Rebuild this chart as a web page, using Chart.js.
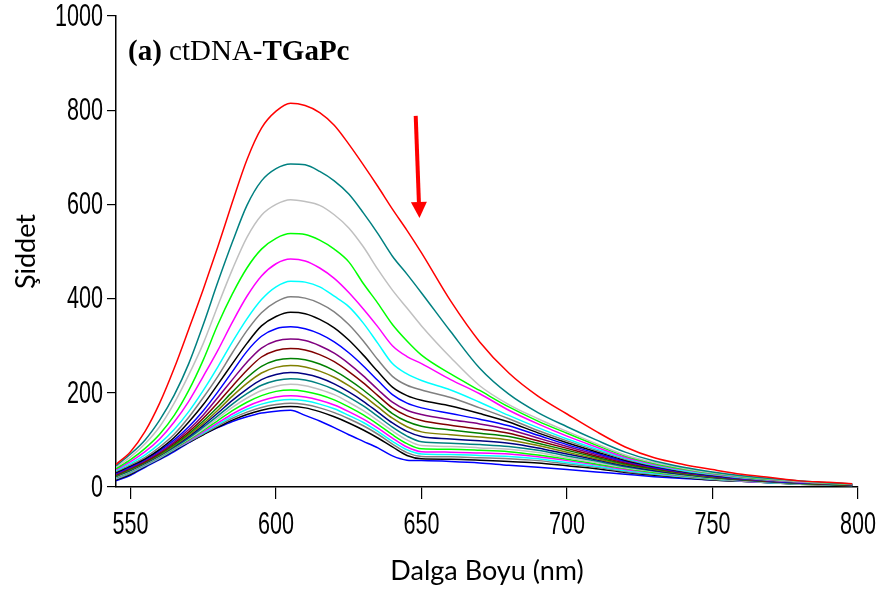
<!DOCTYPE html>
<html><head><meta charset="utf-8">
<script src="https://cdn.jsdelivr.net/npm/chart.js@4.4.1/dist/chart.umd.min.js"></script>
<style>html,body{margin:0;padding:0;background:#fff;} #wrap{width:887px;height:595px;position:relative;}</style>
</head><body><div id="wrap"><canvas id="c"></canvas></div>
<script>
// Wavelength grid (nm)
const wavelengths = [545,550,555,560,565,570,575,580,585,590,595,600,605,610,615,620,625,630,635,640,645,650,660,670,680,690,700,710,720,730,740,750,760,770,780,790,798];

// Emission intensity series (top to bottom)
const s01 = [48,75,118,178,252,335,420,510,605,695,762,798,815,810,795,768,728,684,638,590,545,497,395,308,242,193,155,118,85,62,48,37,27,20,13,10,7];
const s02 = [45,70,100,142,195,262,345,435,520,598,650,676,686,684,670,650,622,582,538,490,452,412,330,252,197,158,128,100,74,55,42,32,24,18,13,9,7];
const s03 = [42,64,92,128,178,238,305,385,462,530,577,600,610,606,598,578,550,510,462,418,380,342,275,215,175,145,118,92,68,52,40,30,23,17,12,9,6];
const s04 = [39,58,82,112,152,205,270,345,410,465,505,528,538,536,524,505,478,432,390,345,310,280,240,205,170,140,114,89,66,50,38,29,22,16,12,8,6];
const s05 = [37,54,75,102,138,182,235,290,350,405,448,474,484,480,465,443,413,378,340,300,277,262,228,198,163,134,108,85,63,48,37,28,21,15,11,8,6];
const s06 = [35,50,68,92,122,160,205,255,308,357,398,425,437,435,425,405,383,348,305,262,240,226,206,180,152,126,102,81,61,46,35,27,20,15,11,8,6];
const s07 = [33,47,63,85,112,148,190,235,285,332,370,393,404,401,390,372,345,310,270,235,216,206,190,168,145,120,98,78,59,45,34,26,19,14,10,7,5];
const s08 = [31,45,60,80,105,138,175,218,262,305,342,362,371,368,356,338,312,280,245,212,194,184,172,156,138,115,94,75,57,44,33,25,19,14,10,7,5];
const s09 = [29,43,58,77,100,128,162,202,245,288,320,336,340,336,325,308,285,257,226,196,178,168,156,144,130,110,90,72,55,42,32,24,18,13,9,7,5];
const s10 = [27,41,56,74,96,122,153,190,228,265,295,310,314,311,300,284,262,236,207,180,163,154,143,134,122,104,86,69,53,41,31,23,17,13,9,7,5];
const s11 = [26,40,54,72,93,117,146,179,214,248,276,290,294,291,281,266,245,221,194,168,151,141,131,123,114,98,82,66,51,40,30,23,17,12,9,6,4];
const s12 = [25,38,53,70,90,113,140,170,202,232,256,269,273,270,261,247,228,206,181,156,139,129,121,114,107,93,78,63,49,38,29,22,16,12,8,6,4];
const s13 = [24,37,52,68,88,110,135,163,193,220,242,254,258,255,246,233,215,194,170,146,128,117,111,106,100,88,74,60,47,37,28,21,16,12,8,6,4];
const s14 = [23,36,51,67,86,107,131,157,184,208,228,239,243,240,232,219,202,182,159,136,118,107,102,98,93,83,70,58,45,35,27,20,15,11,8,6,4];
const s15 = [22,35,50,66,84,104,127,151,176,198,216,226,230,227,219,207,191,172,150,127,108,96,93,90,86,78,66,55,43,34,26,20,15,11,8,5,4];
const s16 = [21,34,49,65,83,102,123,146,169,189,205,214,218,215,207,196,180,162,141,119,100,88,86,83,80,73,62,52,41,33,25,19,14,10,7,5,4];
const s17 = [20,33,48,64,82,100,120,141,162,180,194,203,206,203,196,185,170,153,133,111,92,81,80,78,75,68,59,49,39,31,24,18,14,10,7,5,4];
const s18 = [19,32,47,63,81,98,117,136,155,171,183,191,194,191,184,174,160,144,125,104,85,75,74,72,70,64,56,47,37,30,23,18,13,10,7,5,4];
const s19 = [18,31,46,62,80,97,115,133,150,165,176,183,186,183,176,166,152,137,118,97,79,70,69,67,65,60,52,44,35,28,22,17,13,9,7,5,3];
const s20 = [17,29,45,61,79,96,113,130,146,159,169,175,178,175,168,158,145,130,112,91,73,65,64,62,60,56,49,42,33,27,21,16,12,9,6,4,3];
const s21 = [15,27,44,60,78,95,111,127,142,154,163,169,171,168,160,149,136,121,104,85,67,60,59,57,54,51,45,39,31,25,20,15,12,9,6,4,3];
const s22 = [13,25,42,58,75,94,112,126,139,149,157,161,163,152,140,126,111,97,83,66,57,56,54,51,46,42,37,32,27,22,18,15,12,9,7,5,4];

const seriesList = [s01,s02,s03,s04,s05,s06,s07,s08,s09,s10,s11,s12,s13,s14,s15,s16,s17,s18,s19,s20,s21,s22];
const seriesColors = ['#FF0000','#008080','#C0C0C0','#00FF00','#FF00FF','#00FFFF','#808080','#000000','#0000FF','#800080','#800000','#008000','#808000','#000080','#008080','#C0C0C0','#00FF00','#FF00FF','#00FFFF','#808080','#000000','#0000FF'];

const xTickValues = [550,600,650,700,750,800];
const xTickLabels = ['550','600','650','700','750','800'];
const yTickValues = [0,200,400,600,800,1000];
const yTickLabels = ['0','200','400','600','800','1000'];

const xAxisTitle = 'Dalga Boyu (nm)';
const yAxisTitle = 'Şiddet';
const titleParts = [['(a) ', true], ['ctDNA-', false], ['TGaPc', true]];
// Arrow annotation in data units
const arrowFrom = [648.0, 788];
const arrowTo = [649.3, 571];

// condensed tick-label font
const tickFontCss = "32px 'Liberation Sans', Arial, sans-serif";
const tickDigitWidth = 12;

function drawCondensed(ctx, text, x, y, align) {
  ctx.font = tickFontCss;
  const k = tickDigitWidth / ctx.measureText('0').width;
  const w = ctx.measureText(text).width * k;
  let left = align === 'right' ? x - w : (align === 'center' ? x - w / 2 : x);
  ctx.save();
  ctx.translate(left, y);
  ctx.scale(k, 1);
  ctx.textAlign = 'left';
  ctx.textBaseline = 'middle';
  ctx.fillText(text, 0, 0);
  ctx.restore();
}

const overlay = {
  id: 'overlay',
  afterDraw(chart) {
    const ctx = chart.ctx, xs = chart.scales.x, ys = chart.scales.y, ca = chart.chartArea;
    ctx.save();
    ctx.fillStyle = '#000';
    // tick labels
    yTickValues.forEach((v, i) => drawCondensed(ctx, yTickLabels[i], ca.left - 13, ys.getPixelForValue(v) + 1, 'right'));
    xTickValues.forEach((v, i) => drawCondensed(ctx, xTickLabels[i], xs.getPixelForValue(v), ca.bottom + 38, 'center'));
    // title
    let tx = ca.left + 12, ty = ca.top + 44;
    ctx.textBaseline = 'alphabetic';
    ctx.textAlign = 'left';
    for (const [txt, bold] of titleParts) {
      ctx.font = (bold ? 'bold ' : '') + "29px 'Liberation Serif','Times New Roman',serif";
      ctx.fillText(txt, tx, ty);
      tx += ctx.measureText(txt).width;
    }
    // arrow
    const x0 = xs.getPixelForValue(arrowFrom[0]), y0 = ys.getPixelForValue(arrowFrom[1]);
    const x1 = xs.getPixelForValue(arrowTo[0]), y1 = ys.getPixelForValue(arrowTo[1]);
    const ang = Math.atan2(y1 - y0, x1 - x0);
    const headLen = 16, headW = 8;
    const bx = x1 - headLen * Math.cos(ang), by = y1 - headLen * Math.sin(ang);
    ctx.strokeStyle = '#FF0000'; ctx.fillStyle = '#FF0000';
    ctx.lineWidth = 4; ctx.lineCap = 'butt';
    ctx.beginPath(); ctx.moveTo(x0, y0); ctx.lineTo(bx, by); ctx.stroke();
    ctx.beginPath();
    ctx.moveTo(x1, y1);
    ctx.lineTo(bx + headW * Math.sin(ang), by - headW * Math.cos(ang));
    ctx.lineTo(bx - headW * Math.sin(ang), by + headW * Math.cos(ang));
    ctx.closePath(); ctx.fill();
    ctx.restore();
  }
};

const datasets = seriesList.map((s, i) => ({
  data: wavelengths.map((w, j) => ({x: w, y: s[j]})),
  borderColor: seriesColors[i],
  backgroundColor: seriesColors[i],
  borderWidth: 1.5,
  pointRadius: 0,
  fill: false,
  cubicInterpolationMode: 'monotone'
}));

new Chart(document.getElementById('c'), {
  type: 'line',
  data: {datasets},
  options: {
    responsive: true,
    maintainAspectRatio: false,
    animation: false,
    layout: {padding: {top: 16, right: 29, bottom: 0, left: 0}},
    plugins: {legend: {display: false}, tooltip: {enabled: false}},
    scales: {
      x: {
        type: 'linear', min: 545, max: 800,
        afterBuildTicks(a) { a.ticks = xTickValues.map(v => ({value: v})); },
        afterFit(a) { a.height = 108; },
        ticks: {display: false, autoSkip: false},
        grid: {drawOnChartArea: false, drawTicks: true, tickLength: 12, color: '#000', lineWidth: 1.2},
        border: {display: true, color: '#000', width: 1.5},
        title: {display: true, text: xAxisTitle, color: '#000', font: {family: "Lato,'Open Sans',sans-serif", size: 27}, padding: {top: 0, bottom: 8}}
      },
      y: {
        type: 'linear', min: 0, max: 1000,
        afterBuildTicks(a) { a.ticks = yTickValues.map(v => ({value: v})); },
        afterFit(a) { a.width = 116; },
        ticks: {display: false},
        grid: {drawOnChartArea: false, drawTicks: true, tickLength: 9, color: '#000', lineWidth: 1.2},
        border: {display: true, color: '#000', width: 1.5},
        title: {display: true, text: yAxisTitle, color: '#000', font: {family: "Lato,'Open Sans',sans-serif", size: 27}, padding: {top: 10, bottom: 0}}
      }
    }
  },
  plugins: [overlay]
});
</script>
</body></html>
